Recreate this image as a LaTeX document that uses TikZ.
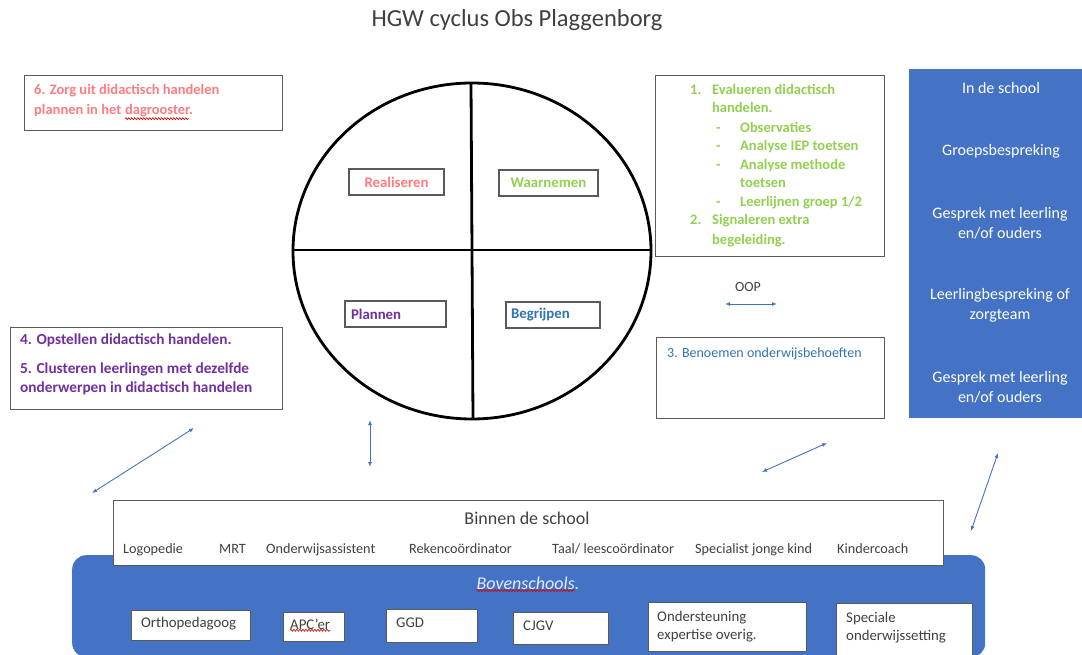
\documentclass[tikz,border=0pt]{standalone}
\usepackage{fontspec}
\setmainfont{Carlito}
\usetikzlibrary{arrows.meta,decorations.pathmorphing}
\definecolor{tred}{HTML}{FF7C80}
\definecolor{tgreen}{HTML}{92D050}
\definecolor{tpurple}{HTML}{7030A0}
\definecolor{tblue}{HTML}{2E75B6}
\definecolor{panel}{HTML}{4472C4}
\definecolor{arrowblue}{HTML}{4472C4}
\definecolor{bordergray}{HTML}{5A5A5A}
\definecolor{titlegray}{HTML}{404040}
\tikzset{
  x=1pt, y=-1pt,
  box/.style={draw=bordergray, line width=1.2pt, fill=white},
  tag/.style={draw=bordergray, line width=1.2pt, fill=white, minimum height=26pt, inner sep=0pt},
  body/.style={font=\fontsize{14}{17}\selectfont, inner sep=0pt},
  bbody/.style={font=\fontsize{14.5}{17}\selectfont\bfseries, inner sep=0pt},
  pbody/.style={font=\fontsize{15.3}{17}\selectfont\bfseries, inner sep=0pt},
  wtxt/.style={font=\fontsize{16}{20}\selectfont, text=white, align=center, inner sep=0pt},
  item/.style={font=\fontsize{14.2}{16}\selectfont, text=titlegray, anchor=base west, inner sep=0pt},
  link/.style={draw=arrowblue, line width=0.9pt, {Latex[length=5pt,width=4pt]}-{Latex[length=5pt,width=4pt]}},
  wavy/.style={draw=red!80!black, line width=0.6pt, decorate, decoration={snake, amplitude=1pt, segment length=3pt}},
  ring/.style={draw=black, line width=2.8pt},
}
\begin{document}
\begin{tikzpicture}
\useasboundingbox (0,0) rectangle (1082,655);
% title
\node[font=\fontsize{24.5}{28}\selectfont, text=titlegray] (title) at (517,20) {HGW cyclus Obs Plaggenborg};

% box 6
\node[box, minimum width=258pt, minimum height=55pt, anchor=north west] (b6) at (24,75) {};
\node[bbody, text=tred, anchor=base west] (b6a) at (34,95) {6. Zorg uit didactisch handelen};
\node[bbody, text=tred, anchor=base west] (b6b) at (34,115) {plannen in het};
\node[bbody, text=tred, anchor=base west] (b6c) at ([xshift=3.4pt]b6b.base east) {dagrooster.};
\draw[wavy] ([yshift=-1pt]b6c.south west) -- ([xshift=-4pt,yshift=-1pt]b6c.south east);

% circle
\draw[ring] (472,251) ellipse [x radius=179, y radius=168];
\draw[ring] (293,250) -- (651,250);
\draw[ring] (471,83) -- (473,419);
\node[tag, minimum width=95pt, text=tred, font=\fontsize{14.8}{16}\selectfont\bfseries] (real) at (396.5,182) {Realiseren};
\node[tag, minimum width=99pt, text=tgreen, font=\fontsize{14.8}{16}\selectfont\bfseries] (waar) at (548.5,183) {Waarnemen};
\node[tag, minimum width=101pt, text=tpurple, font=\fontsize{14.8}{16}\selectfont\bfseries, align=left, text width=89pt] (plan) at (395.5,314) {Plannen};
\node[tag, minimum width=94pt, text=tblue, font=\fontsize{14.8}{16}\selectfont\bfseries, align=left, text width=84pt] (begr) at (553,315) {Begrijpen};

% green box
\node[box, minimum width=229pt, minimum height=181pt, anchor=north west] (gbox) at (655,75) {};
\begin{scope}[every node/.style={bbody, text=tgreen, anchor=base west}]
\node (g1n) at (690,95) {1.};
\node (g1a) at (712,95) {Evalueren didactisch};
\node (g1b) at (712,113) {handelen.};
\node (d1) at (716,133) {-};
\node (s1) at (740,133) {Observaties};
\node (d2) at (716,151) {-};
\node (s2) at (740,151) {Analyse IEP toetsen};
\node (d3) at (716,170) {-};
\node (s3a) at (740,170) {Analyse methode};
\node (s3b) at (740,188) {toetsen};
\node (d4) at (716,207) {-};
\node (s4) at (740,207) {Leerlijnen groep 1/2};
\node (g2n) at (690,225) {2.};
\node (g2a) at (712,225) {Signaleren extra};
\node (g2b) at (712,244) {begeleiding.};
\end{scope}

% OOP
\node[font=\fontsize{14}{16}\selectfont, text=titlegray] (oop) at (748,287) {OOP};
\coordinate (oopL) at (725,304);
\coordinate (oopR) at (777,304);
\draw[link] (oopL) -- (oopR);

% box 3
\node[box, minimum width=228pt, minimum height=81pt, anchor=north west] (b3) at (656,337) {};
\node[body, text=tblue, anchor=base west] (b3t) at (667,357) {3. Benoemen onderwijsbehoeften};

% blue panel
\node[fill=panel, minimum width=173pt, minimum height=349pt, anchor=north west, inner sep=0pt] (pan) at (909,69) {};
\node[wtxt] (p1) at (1001,88) {In de school};
\node[wtxt] (p2) at (1001,151) {Groepsbespreking};
\node[wtxt] (p3) at (1000,223) {Gesprek met leerling\\en/of ouders};
\node[wtxt] (p4) at (1000,305) {Leerlingbespreking of\\zorgteam};
\node[wtxt] (p5) at (1000,387) {Gesprek met leerling\\en/of ouders};

% box 4/5
\node[box, minimum width=272pt, minimum height=82pt, anchor=north west] (b4) at (10,327) {};
\node[pbody, text=tpurple, anchor=base west] (b4a) at (20,344) {4. Opstellen didactisch handelen.};
\node[pbody, text=tpurple, anchor=base west] (b5a) at (20,373) {5. Clusteren leerlingen met dezelfde};
\node[pbody, text=tpurple, anchor=base west] (b5b) at (20,392) {onderwerpen in didactisch handelen};

% arrows
\coordinate (a1s) at (194,428); \coordinate (a1e) at (92,493);
\coordinate (a2s) at (370,420); \coordinate (a2e) at (370,467);
\coordinate (a3s) at (827,443); \coordinate (a3e) at (762,472);
\coordinate (a4s) at (998,453); \coordinate (a4e) at (971,531);
\draw[link] (a1s) -- (a1e);
\draw[link] (a2s) -- (a2e);
\draw[link] (a3s) -- (a3e);
\draw[link] (a4s) -- (a4e);

% bovenschools panel
\node[fill=panel, rounded corners=14pt, minimum width=913pt, minimum height=102pt, anchor=north west, inner sep=0pt] (bov) at (72,555) {};
\node[font=\fontsize{18}{20}\selectfont\itshape, text=white!85!panel, inner sep=0pt] (bovt) at (528,583) {Bovenschools.};
\draw[wavy] ([yshift=-1pt]bovt.south west) -- ([xshift=-5pt,yshift=-1pt]bovt.south east);

% binnen de school
\node[draw=bordergray, line width=1pt, fill=white, minimum width=830pt, minimum height=65pt, anchor=north west, inner sep=0pt] (bin) at (113,500) {};
\node[font=\fontsize{18}{20}\selectfont, text=titlegray, inner sep=0pt] (bint) at (527,518) {Binnen de school};
\node[item] (i1) at (123,553) {Logopedie};
\node[item] (i2) at (219,553) {MRT};
\node[item] (i3) at (266,553) {Onderwijsassistent};
\node[item] (i4) at (409,553) {Rekencoördinator};
\node[item] (i5) at (552,553) {Taal/ leescoördinator};
\node[item] (i6) at (695,553) {Specialist jonge kind};
\node[item] (i7) at (837,553) {Kindercoach};

% bottom boxes
\begin{scope}[every node/.style={draw=bordergray, line width=1.2pt, fill=white, anchor=north west, inner sep=0pt}]
\node[minimum width=119pt, minimum height=30pt] (o1) at (131,610) {};
\node[minimum width=61pt, minimum height=29pt] (o2) at (283,612) {};
\node[minimum width=91pt, minimum height=33pt] (o3) at (386,609) {};
\node[minimum width=95pt, minimum height=32pt] (o4) at (513,612) {};
\node[minimum width=158pt, minimum height=49pt] (o5) at (648,602) {};
\node[minimum width=136pt, minimum height=53pt] (o6) at (836,603) {};
\end{scope}
\begin{scope}[every node/.style={font=\fontsize{14.8}{18}\selectfont, text=titlegray, anchor=base west, inner sep=0pt, align=left}]
\node (o1t) at (141,627) {Orthopedagoog};
\node (o2t) at (290,629) {APC’er};
\node (o3t) at (396,627) {GGD};
\node (o4t) at (523,630) {CJGV};
\node (o5t) at (657,621) {Ondersteuning};
\node (o5u) at (657,639) {expertise overig.};
\node (o6t) at (846,622) {Speciale};
\node (o6u) at (846,640) {onderwijssetting};
\end{scope}
\draw[wavy] ([yshift=-1pt]o2t.south west) -- ([yshift=-1pt]o2t.south east);
\end{tikzpicture}
\end{document}
